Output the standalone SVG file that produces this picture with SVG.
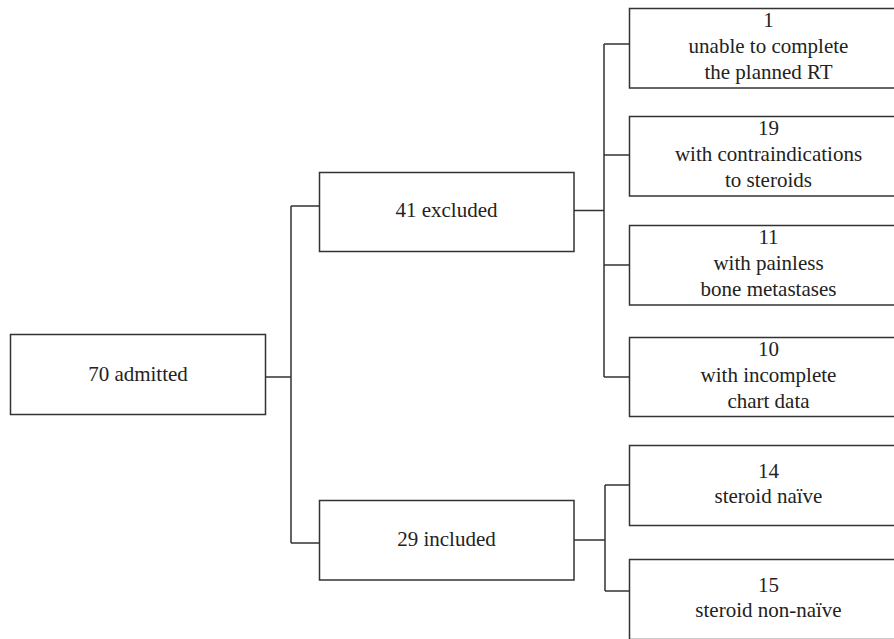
<svg xmlns="http://www.w3.org/2000/svg" width="894" height="639" viewBox="0 0 894 639">
<style>
rect.box{fill:#fff;stroke:#333;stroke-width:1.5}
text{font-size:21px;fill:#222;text-anchor:middle}
#connectors path{fill:none;stroke:#333;stroke-width:1.5}
</style>
<rect width="894" height="639" fill="#fff"/>
<g id="connectors">
<path d="M266,377H291M291,206V543M291,206H319M291,543H319"/>
<path d="M574,210.5H604M604,44V377M604,44H629M604,155H629M604,265H629M604,377H629"/>
<path d="M574,540H605M605,485V591M605,485H629M605,591H629"/>
</g>
<g font-family="Liberation Serif, Times New Roman, DejaVu Serif, serif">
<g id="n70"><rect class="box" x="10.5" y="334.5" width="255" height="80"/><text x="138" y="381">70 admitted</text></g>
<g id="n41"><rect class="box" x="319.5" y="172.5" width="254.5" height="79"/><text x="446.5" y="217">41 excluded</text></g>
<g id="n29"><rect class="box" x="319.5" y="500.5" width="254.5" height="79.5"/><text x="446.5" y="546">29 included</text></g>
<g id="n1"><rect class="box" x="629.5" y="8.5" width="280" height="79.5"/><text x="768.5" y="27">1</text><text x="768.5" y="53">unable to complete</text><text x="768.5" y="79">the planned RT</text></g>
<g id="n19"><rect class="box" x="629.5" y="116.5" width="280" height="79.5"/><text x="768.5" y="135">19</text><text x="768.5" y="161">with contraindications</text><text x="768.5" y="187">to steroids</text></g>
<g id="n11"><rect class="box" x="629.5" y="225.5" width="280" height="79.5"/><text x="768.5" y="244">11</text><text x="768.5" y="270">with painless</text><text x="768.5" y="296">bone metastases</text></g>
<g id="n10"><rect class="box" x="629.5" y="337.5" width="280" height="79"/><text x="768.5" y="356">10</text><text x="768.5" y="382">with incomplete</text><text x="768.5" y="408">chart data</text></g>
<g id="n14"><rect class="box" x="629.5" y="445.5" width="280" height="80"/><text x="768.5" y="478">14</text><text x="768.5" y="503">steroid naïve</text></g>
<g id="n15"><rect class="box" x="629.5" y="559.5" width="280" height="80"/><text x="768.5" y="592">15</text><text x="768.5" y="617">steroid non-naïve</text></g>
</g>
</svg>
